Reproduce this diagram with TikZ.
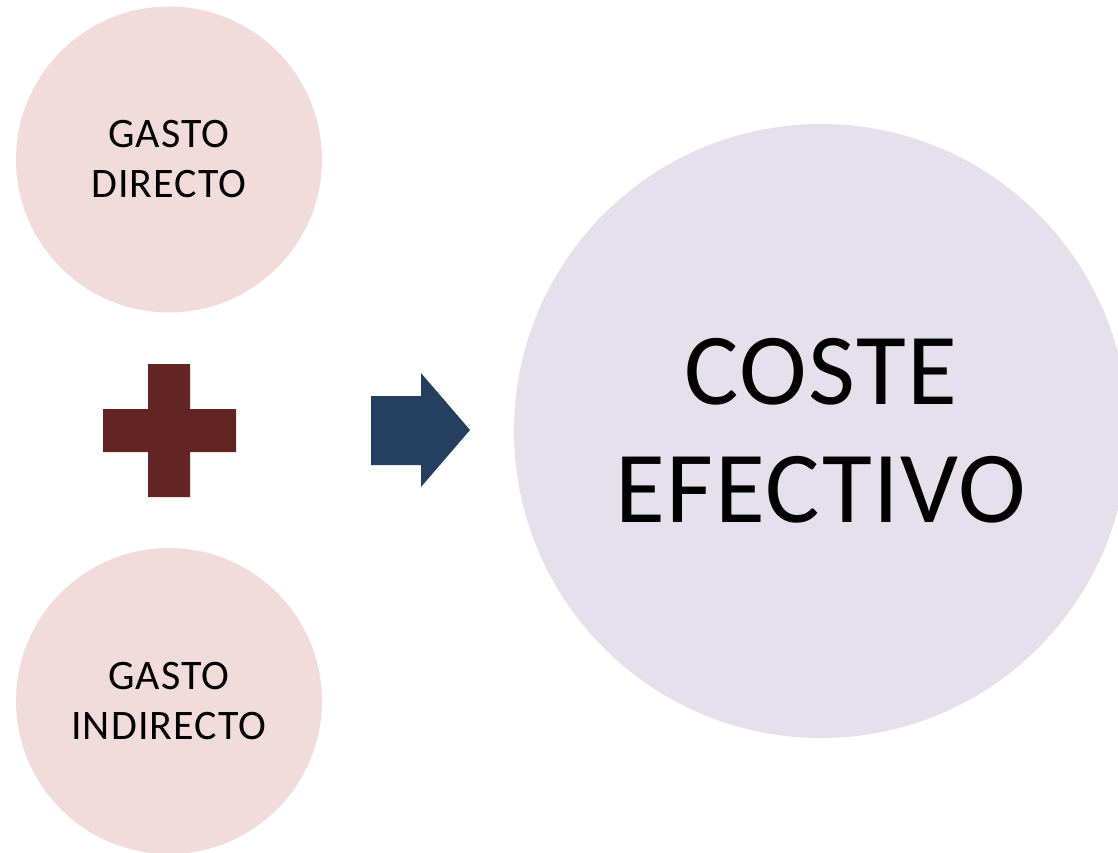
\documentclass[tikz,border=0pt]{standalone}
\usepackage{fontspec}
\setmainfont{Carlito}
\newfontfamily\smallfnt[LetterSpace=2.6]{Carlito}
\newfontfamily\bigfnt[LetterSpace=1.6]{Carlito}
\definecolor{pinkfill}{HTML}{F2DCDB}
\definecolor{lavfill}{HTML}{E5E0EC}
\definecolor{plusred}{HTML}{632523}
\definecolor{arrowblue}{HTML}{243F60}
\begin{document}
\begin{tikzpicture}[x=1pt,y=-1pt,
  gasto/.style={circle, fill=pinkfill, minimum size=306pt, inner sep=0pt, align=center, font=\smallfnt\fontsize{42}{50}\selectfont},
  coste/.style={circle, fill=lavfill, minimum size=614pt, inner sep=0pt, align=center, font=\bigfnt\fontsize{102}{117.6}\selectfont},
  plusmark/.style={fill=plusred},
  arrowmark/.style={fill=arrowblue}]
\useasboundingbox (0,0) rectangle (1118,853);
\node[gasto] (directo) at (169,159.5) {GASTO\\DIRECTO};
\node[gasto] (indirecto) at (169,701) {GASTO\\INDIRECTO};
\node[coste] (coste) at (821,431) {COSTE\\EFECTIVO};
\fill[plusmark] (148,364) -- (190,364) -- (190,409) -- (236,409) -- (236,452) -- (190,452) -- (190,497) -- (148,497) -- (148,452) -- (103,452) -- (103,409) -- (148,409) -- cycle;
\fill[arrowmark] (371,396) -- (421,396) -- (421,373) -- (470,430) -- (421,487) -- (421,465) -- (371,465) -- cycle;
\end{tikzpicture}
\end{document}
